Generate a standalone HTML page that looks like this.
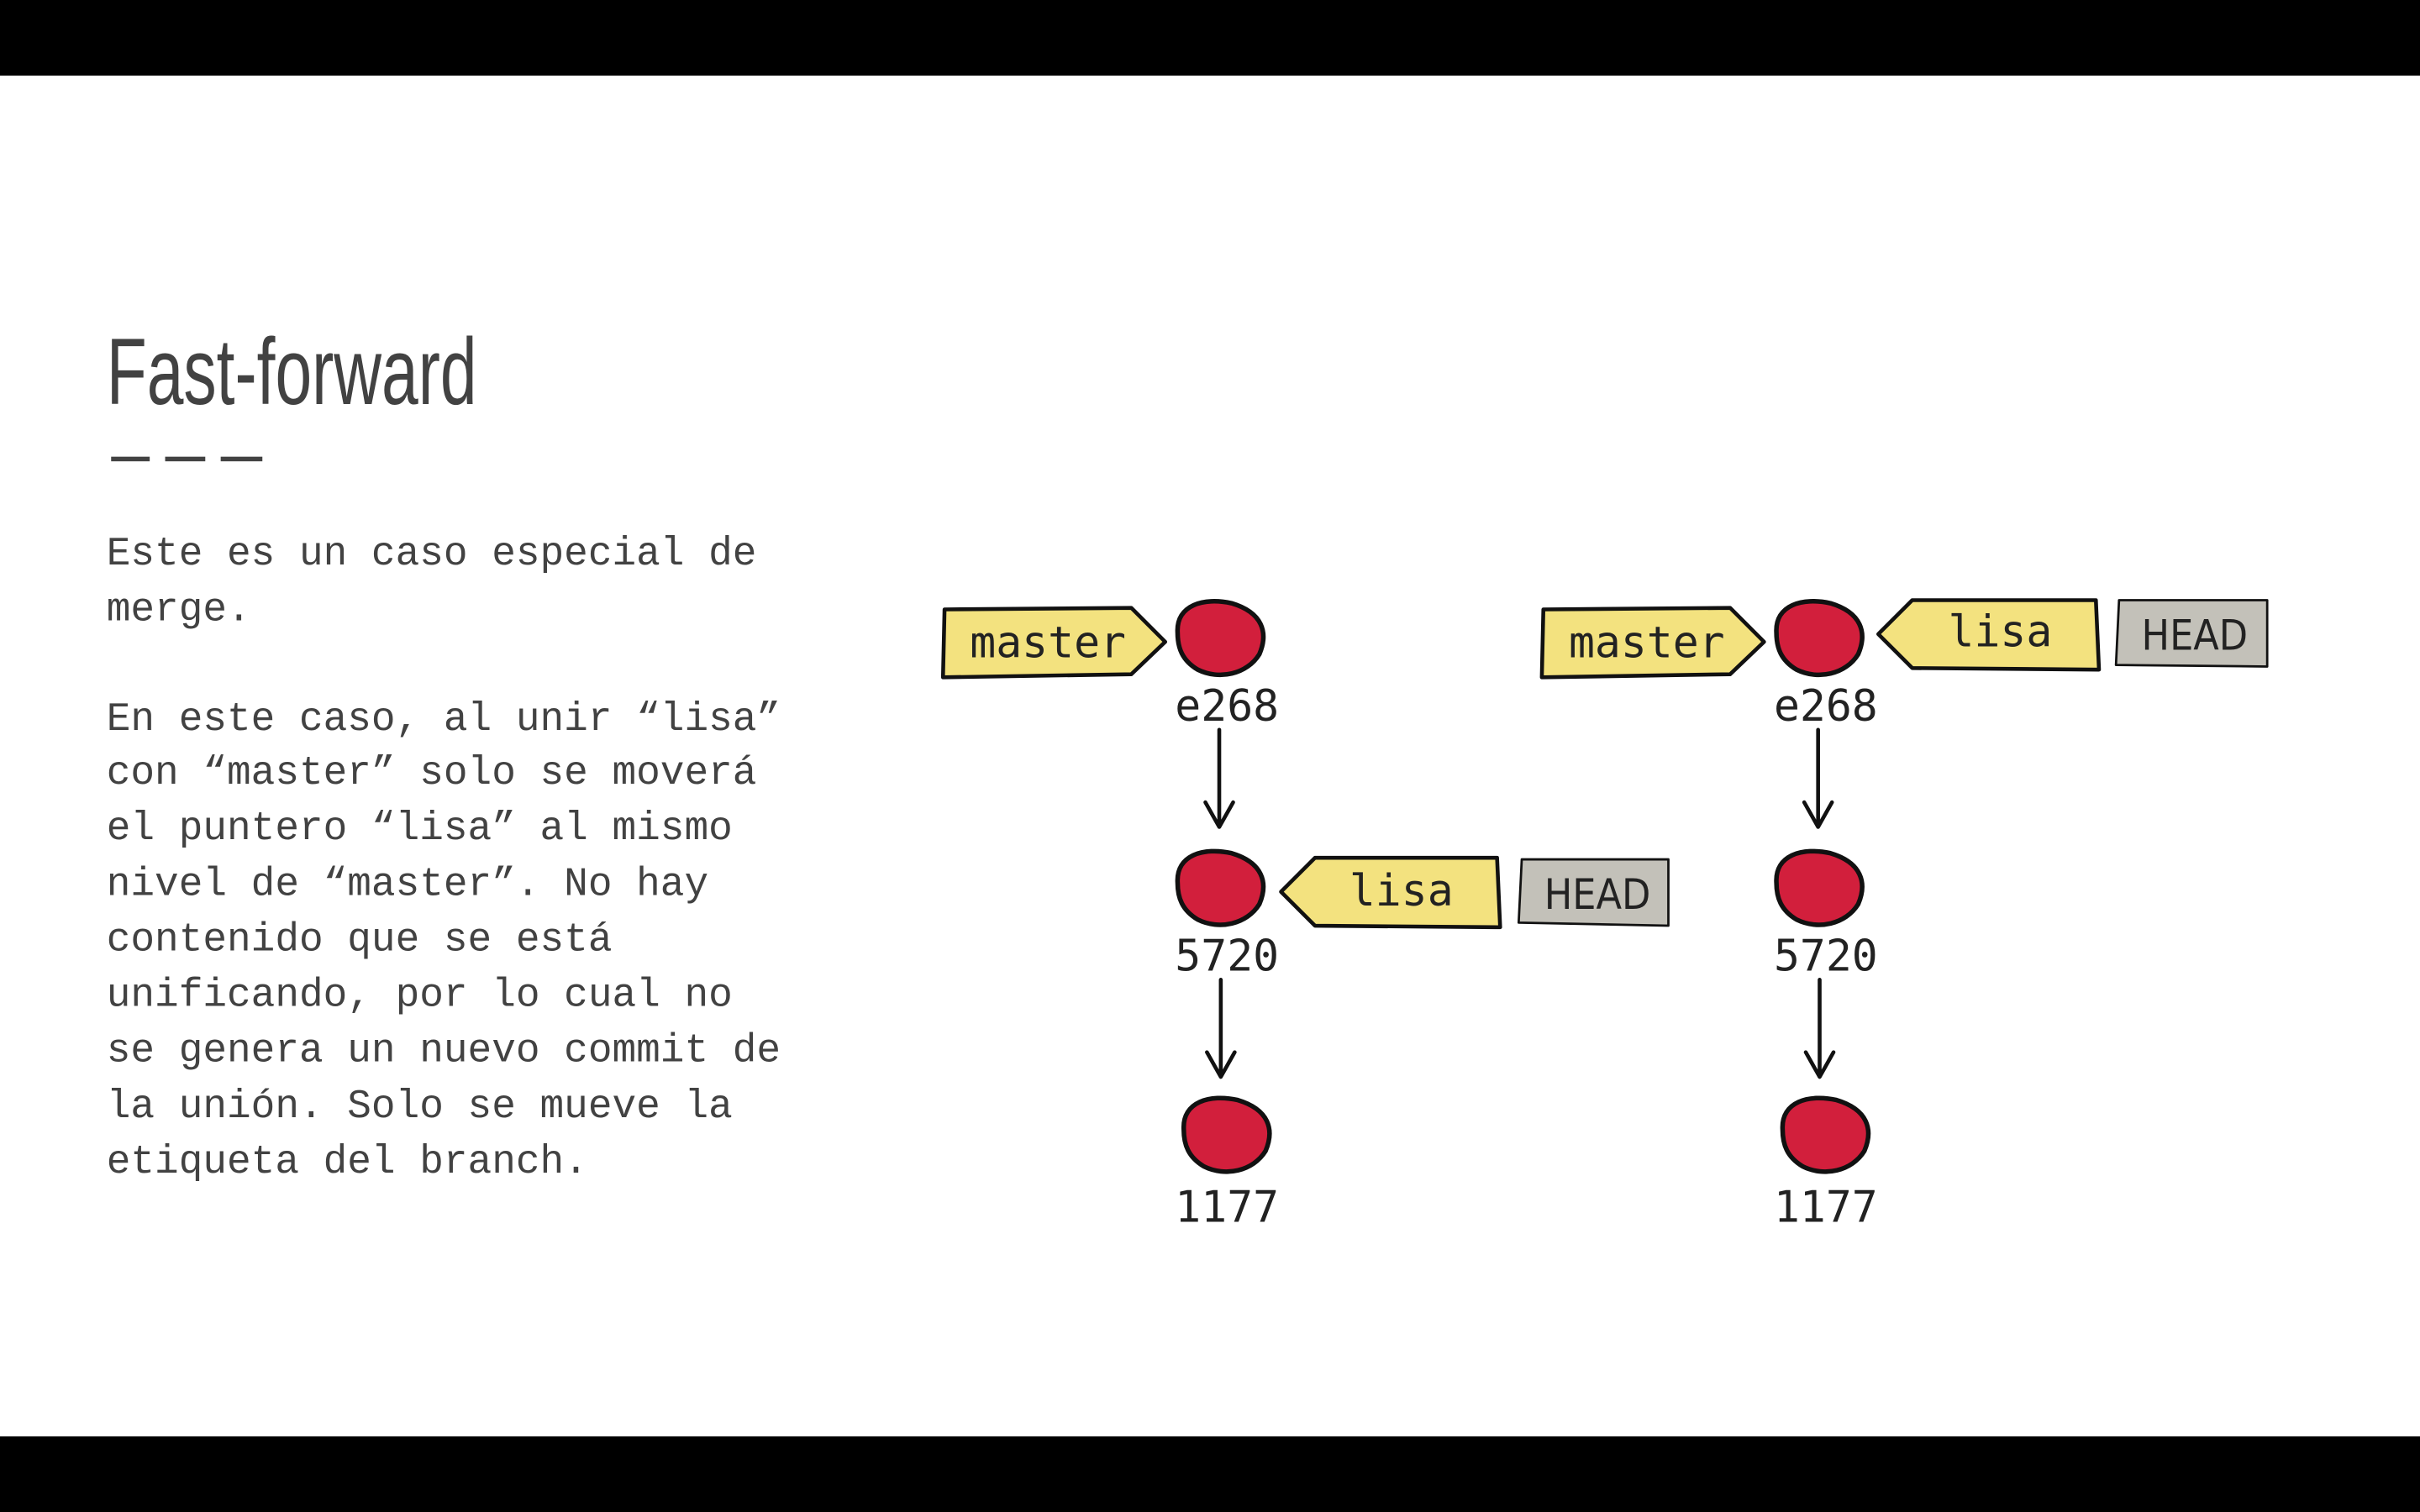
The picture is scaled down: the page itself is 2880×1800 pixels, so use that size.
<!DOCTYPE html>
<html><head><meta charset="utf-8"><style>
html,body{margin:0;padding:0;background:#fff;width:2880px;height:1800px;overflow:hidden}
svg{display:block}
</style></head><body>
<svg width="2880" height="1800" viewBox="0 0 1568 980" xmlns="http://www.w3.org/2000/svg">
<defs>
<marker id="ah" viewBox="0 0 12 12" refX="6" refY="11" markerWidth="12" markerHeight="12" markerUnits="userSpaceOnUse" orient="auto-start-reverse">
</marker>
</defs>
<rect x="0" y="0" width="1568" height="980" fill="#fff"/>
<rect x="0" y="0" width="1568" height="49" fill="#000"/>
<rect x="0" y="931" width="1568" height="49" fill="#000"/>

<text x="69" y="262" font-family="Liberation Sans, sans-serif" font-size="61" fill="#424242" textLength="240" lengthAdjust="spacingAndGlyphs">Fast-forward</text>
<g fill="#424242">
<rect x="72" y="296" width="25" height="3"/>
<rect x="107" y="296" width="26" height="3"/>
<rect x="143" y="296" width="27" height="3"/>
</g>

<g font-family="Liberation Mono, monospace" font-size="26" fill="#424242">
<text x="69" y="366">Este es un caso especial de</text>
<text x="69" y="402">merge.</text>
<text x="69" y="473">En este caso, al unir “lisa”</text>
<text x="69" y="508">con “master” solo se moverá</text>
<text x="69" y="544">el puntero “lisa” al mismo</text>
<text x="69" y="580">nivel de “master”. No hay</text>
<text x="69" y="616">contenido que se está</text>
<text x="69" y="652">unificando, por lo cual no</text>
<text x="69" y="688">se genera un nuevo commit de</text>
<text x="69" y="724">la unión. Solo se mueve la</text>
<text x="69" y="760">etiqueta del branch.</text>
</g>

<!-- Left diagram -->
<g stroke="#111" stroke-width="2.5" stroke-linejoin="round">
<polygon points="612,395 733,394 755,416 733,437 611,439" fill="#f3e27f"/>
<polygon points="830,578 852,556 970,556 972,601 852,600" fill="#f3e27f"/>
<polygon points="986,557 1081,557 1081,600 984,598" fill="#c3c1b9" stroke-width="1.5"/>
<path d="M763,410 C762,392 780,387 798,391 C818,397 822,410 816,424 C808,437 790,441 776,434 C766,428 763,420 763,410 Z" fill="#d21f3c" stroke-width="3"/>
<path d="M763,572 C762,554 780,549 798,553 C818,559 822,572 816,586 C808,599 790,603 776,596 C766,590 763,582 763,572 Z" fill="#d21f3c" stroke-width="3"/>
<path d="M767,732 C766,714 784,709 802,713 C822,719 826,732 820,746 C812,759 794,763 780,756 C770,750 767,742 767,732 Z" fill="#d21f3c" stroke-width="3"/>
</g>
<g stroke="#111" stroke-width="2.5" fill="none" stroke-linecap="round" stroke-linejoin="round">
<path d="M790,473 L790,536 M781,520 L790,536 L799,520"/>
<path d="M791,635 L791,698 M782,682 L791,698 L800,682"/>
</g>
<g font-family="DejaVu Sans Mono, Liberation Mono, monospace" font-size="28" fill="#222">
<text x="679" y="426" text-anchor="middle">master</text>
<text x="795" y="467" text-anchor="middle">e268</text>
<text x="908" y="587" text-anchor="middle">lisa</text>
<text x="795" y="629" text-anchor="middle">5720</text>
<text x="795" y="792" text-anchor="middle">1177</text>
</g>
<text x="1035" y="589" text-anchor="middle" font-family="DejaVu Sans Condensed, Liberation Sans, sans-serif" font-size="27" fill="#222">HEAD</text>

<!-- Right diagram -->
<g stroke="#111" stroke-width="2.5" stroke-linejoin="round">
<polygon points="1000,395 1121,394 1143,416 1121,437 999,439" fill="#f3e27f"/>
<polygon points="1217,411 1239,389 1358,389 1360,434 1239,433" fill="#f3e27f"/>
<polygon points="1373,389 1469,389 1469,432 1371,431" fill="#c3c1b9" stroke-width="1.5"/>
<path d="M1151,410 C1150,392 1168,387 1186,391 C1206,397 1210,410 1204,424 C1196,437 1178,441 1164,434 C1154,428 1151,420 1151,410 Z" fill="#d21f3c" stroke-width="3"/>
<path d="M1151,572 C1150,554 1168,549 1186,553 C1206,559 1210,572 1204,586 C1196,599 1178,603 1164,596 C1154,590 1151,582 1151,572 Z" fill="#d21f3c" stroke-width="3"/>
<path d="M1155,732 C1154,714 1172,709 1190,713 C1210,719 1214,732 1208,746 C1200,759 1182,763 1168,756 C1158,750 1155,742 1155,732 Z" fill="#d21f3c" stroke-width="3"/>
</g>
<g stroke="#111" stroke-width="2.5" fill="none" stroke-linecap="round" stroke-linejoin="round">
<path d="M1178,473 L1178,536 M1169,520 L1178,536 L1187,520"/>
<path d="M1179,635 L1179,698 M1170,682 L1179,698 L1188,682"/>
</g>
<g font-family="DejaVu Sans Mono, Liberation Mono, monospace" font-size="28" fill="#222">
<text x="1067" y="426" text-anchor="middle">master</text>
<text x="1183" y="467" text-anchor="middle">e268</text>
<text x="1296" y="419" text-anchor="middle">lisa</text>
<text x="1183" y="629" text-anchor="middle">5720</text>
<text x="1183" y="792" text-anchor="middle">1177</text>
</g>
<text x="1422" y="421" text-anchor="middle" font-family="DejaVu Sans Condensed, Liberation Sans, sans-serif" font-size="27" fill="#222">HEAD</text>
</svg>
</body></html>
